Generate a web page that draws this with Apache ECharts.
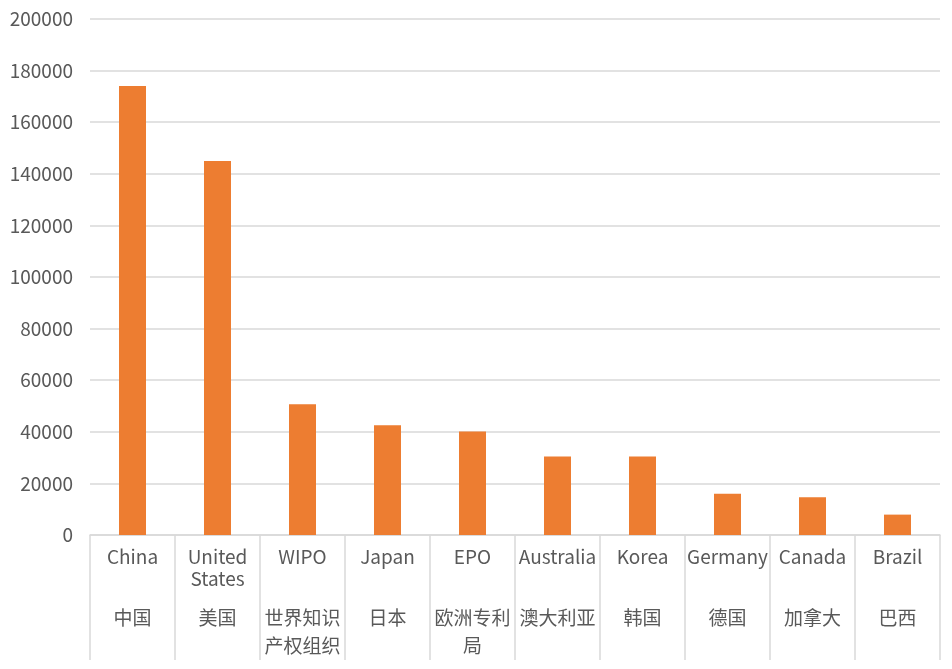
<!DOCTYPE html>
<html>
<head>
<meta charset="utf-8">
<script src="https://cdn.jsdelivr.net/npm/echarts@6/dist/echarts.min.js"></script>
<style>html,body{margin:0;padding:0;background:#fff;}#c{width:952px;height:669px;}</style>
</head>
<body>
<div id="c"></div>
<script>
const categoriesEn = ['China', 'United\nStates', 'WIPO', 'Japan', 'EPO', 'Australia', 'Korea', 'Germany', 'Canada', 'Brazil'];
const categoriesZh = ['中国', '美国', '世界知识\n产权组织', '日本', '欧洲专利\n局', '澳大利亚', '韩国', '德国', '加拿大', '巴西'];
const values = [174000, 145000, 50700, 42500, 40100, 30400, 30400, 16000, 14600, 7900];
const yTicks = [0, 20000, 40000, 60000, 80000, 100000, 120000, 140000, 160000, 180000, 200000];

const chart = echarts.init(document.getElementById('c'));
const font = "'Noto Sans CJK SC', 'Noto Sans', sans-serif";
chart.setOption({
  animation: false,
  grid: { left: 90, right: 12, top: 19, bottom: 134 },
  xAxis: [
    {
      type: 'category',
      position: 'bottom',
      data: categoriesEn,
      axisLine: { lineStyle: { color: '#d9d9d9', width: 1.5 } },
      axisTick: { show: true, length: 125, lineStyle: { color: '#d9d9d9', width: 1.5 } },
      axisLabel: { interval: 0, color: '#595959', fontSize: 19, lineHeight: 22, margin: 11, fontFamily: font, verticalAlign: 'top' }
    },
    {
      type: 'category',
      position: 'bottom',
      data: categoriesZh,
      axisLine: { show: false },
      axisTick: { show: false },
      axisLabel: { interval: 0, color: '#595959', fontSize: 19, lineHeight: 28, margin: 69, fontFamily: font, verticalAlign: 'top' }
    }
  ],
  yAxis: {
    type: 'value',
    min: yTicks[0],
    max: yTicks[yTicks.length - 1],
    interval: yTicks[1] - yTicks[0],
    axisLine: { show: false },
    axisTick: { show: false },
    axisLabel: { color: '#595959', fontSize: 19, margin: 17, fontFamily: font, formatter: v => String(v) },
    splitLine: { lineStyle: { color: '#d9d9d9', width: 1.5 } }
  },
  series: [{
    type: 'bar',
    data: values,
    barWidth: 27,
    itemStyle: { color: '#ED7D31' }
  }]
});
</script>
</body>
</html>
